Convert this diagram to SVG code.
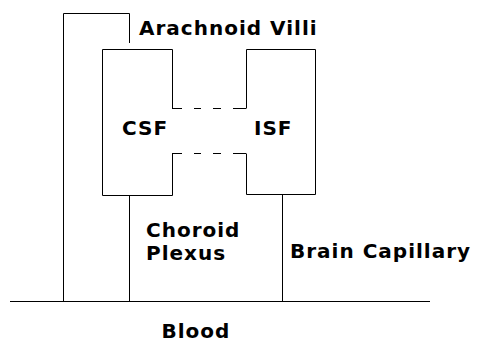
<svg xmlns="http://www.w3.org/2000/svg" width="484" height="356" viewBox="0 0 484 356">
  <style>
    .ln { fill: none; stroke: #000; stroke-width: 1; }
    .lbl { font-family: "DejaVu Sans", "Liberation Sans", sans-serif; font-weight: bold; font-size: 20px; letter-spacing: 1px; fill: #000; }
  </style>
  <rect width="484" height="356" fill="#fff"/>
  <g id="connectors">
    <path class="ln" d="M63.5,301.5 V13.5 H129.5 V43"/>
    <path class="ln" d="M129.5,195.5 V301.5"/>
    <path class="ln" d="M282.5,194.5 V301.5"/>
    <path class="ln" d="M172,108.5 H182 M194,108.5 H201 M213,108.5 H221 M233,108.5 H246"/>
    <path class="ln" d="M172,153.5 H182 M194,153.5 H201 M213,153.5 H221 M233,153.5 H246"/>
  </g>
  <g id="blood">
    <path class="ln" d="M10,301.5 H430"/>
    <text class="lbl" x="161.5" y="338">Blood</text>
  </g>
  <g id="arachnoid-villi">
    <text class="lbl" x="139" y="35">Arachnoid Villi</text>
  </g>
  <g id="csf">
    <path class="ln" d="M172.5,108.5 V49.5 H102.5 V195.5 H172.5 V153.5"/>
    <text class="lbl" x="122" y="135">CSF</text>
  </g>
  <g id="isf">
    <path class="ln" d="M246.5,108.5 V49.5 H315.5 V194.5 H246.5 V153.5"/>
    <text class="lbl" x="254" y="135">ISF</text>
  </g>
  <g id="choroid-plexus">
    <text class="lbl" x="146" y="237">Choroid</text>
    <text class="lbl" x="146" y="260">Plexus</text>
  </g>
  <g id="brain-capillary">
    <text class="lbl" x="290" y="258">Brain Capillary</text>
  </g>
</svg>
